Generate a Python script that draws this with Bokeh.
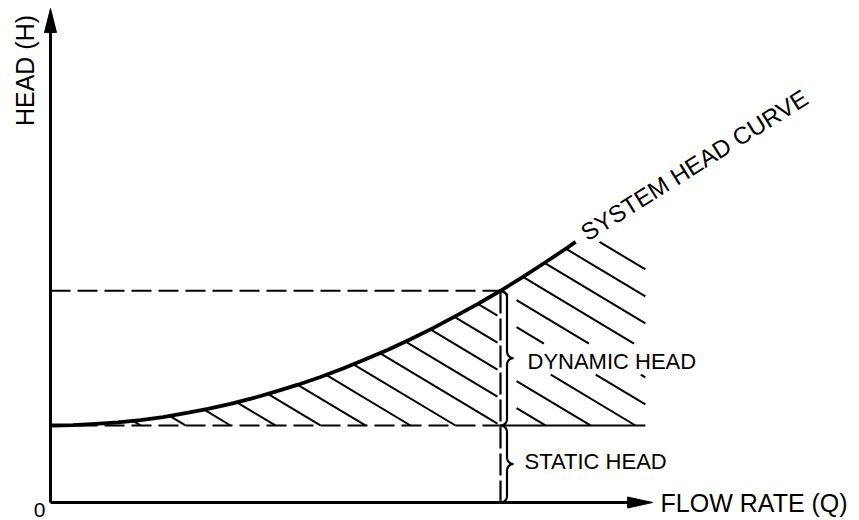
import numpy as np
from bokeh.plotting import figure
from bokeh.models import Range1d, Label
from bokeh.embed import file_html
from bokeh.resources import INLINE

# ---------------- data ----------------
flow_q = [0.0, 0.5, 1.0, 1.5, 2.0, 2.5, 3.0, 3.5, 4.0, 4.5, 5.0, 5.5, 6.0,
          6.5, 7.0, 7.5, 8.0, 8.5, 9.0, 9.5, 10.0, 10.5, 11.0, 11.5, 11.67]
head_h = [20.0, 20.1, 20.4, 20.8, 21.4, 22.2, 23.2, 24.3, 25.6, 27.1, 28.8,
          30.6, 32.6, 34.8, 37.2, 39.7, 42.4, 45.3, 48.4, 51.6, 55.0, 58.6,
          62.4, 66.3, 67.7]
static_head = 20.0
design_flow = 10.0
design_head = 55.0
q_axis_end = 13.38
h_axis_end = 128.3
hatch_q_end = 13.22

x_axis_title = "FLOW RATE (Q)"
y_axis_title = "HEAD (H)"
origin_label = "0"
curve_label = "SYSTEM HEAD CURVE"
dynamic_label = "DYNAMIC HEAD"
static_label = "STATIC HEAD"

# ---------------- layout / scales ----------------
W, H = 859, 520
PX_Q = 45.0        # pixels per unit of Q
PX_H = 3.85        # pixels per unit of H
OX, OY = 50.0, 18.0  # origin offset from frame left / bottom, px
FONT = "Liberation Sans"


def dq(px):
    return px / PX_Q


def dh(px):
    return px / PX_H


p = figure(width=W, height=H,
           x_range=Range1d(-OX / PX_Q, (W - OX) / PX_Q),
           y_range=Range1d(-OY / PX_H, (H - OY) / PX_H),
           x_axis_type=None, y_axis_type=None,
           toolbar_location=None, output_backend="svg",
           min_border=0, outline_line_color=None,
           background_fill_color="white", border_fill_color="white")

# ---------------- hatch lines ----------------
HATCH_SLOPE = 0.6  # screen px down per px right
m = HATCH_SLOPE * PX_Q / PX_H
qq = np.linspace(0.0, hatch_q_end, 6000)
top = np.interp(qq, flow_q, head_h)
dyn_mid = (static_head + design_head) / 2.0
dyn_base = dyn_mid - dh(11.5)
sta_base = static_head / 2.0 - dh(5.5)
gap_lo = dyn_base - dh(5)
gap_hi = dyn_base + dh(26)
brace_lo_q = design_flow - dq(3)
brace_hi_q = design_flow + dq(16)

sx0, sy0, sx1, sy1 = [], [], [], []
for q0 in np.arange(2.0, 20.0, 1.0):
    hl = static_head - m * (qq - q0)
    ok = (hl >= static_head) & (hl <= top)
    ok &= ~((qq > brace_lo_q) & (qq < brace_hi_q) & (hl < design_head - dh(4)))
    ok &= ~((qq >= brace_hi_q) & (hl > gap_lo) & (hl < gap_hi))
    idx = np.flatnonzero(ok)
    if idx.size == 0:
        continue
    br = np.flatnonzero(np.diff(idx) > 1)
    starts = np.r_[idx[0], idx[br + 1]]
    ends = np.r_[idx[br], idx[-1]]
    for s, e in zip(starts, ends):
        if e - s > 2:
            sx0.append(qq[s]); sy0.append(hl[s])
            sx1.append(qq[e]); sy1.append(hl[e])

p.segment(x0=sx0, y0=sy0, x1=sx1, y1=sy1, line_color="black", line_width=2)

# ---------------- dashed reference lines ----------------
p.line([0, design_flow], [design_head, design_head], line_color="black",
       line_width=2.2, line_dash="20 7")
p.line([0, design_flow], [static_head, static_head], line_color="black",
       line_width=2.2, line_dash="20 7")
p.line([design_flow, hatch_q_end], [static_head, static_head],
       line_color="black", line_width=2.2)
p.line([design_flow, design_flow], [0, design_head], line_color="black",
       line_width=2.2, line_dash="22 5")

# ---------------- system head curve ----------------
p.line(flow_q, head_h, line_color="black", line_width=3.8, line_join="round")

# ---------------- axes with arrow heads ----------------
y_head_len, y_head_half = 24, 6
x_head_len, x_head_half = 25, 5.5
p.line([0, 0], [0, h_axis_end - dh(y_head_len) + dh(1)], line_color="black",
       line_width=3)
p.line([0, q_axis_end - dq(x_head_len) + dq(1)], [0, 0], line_color="black",
       line_width=3)
p.patch([0, -dq(y_head_half), dq(y_head_half)],
        [h_axis_end, h_axis_end - dh(y_head_len), h_axis_end - dh(y_head_len)],
        fill_color="black", line_color="black", line_width=1)
p.patch([q_axis_end, q_axis_end - dq(x_head_len), q_axis_end - dq(x_head_len)],
        [0, dh(x_head_half), -dh(x_head_half)],
        fill_color="black", line_color="black", line_width=1)


# ---------------- braces ----------------
def brace(q_at, h_top, h_bot, r=6.5, n=12):
    # work in screen px offsets (x right, y down) relative to (q_at, h_top)
    y_bot = (h_top - h_bot) * PX_H
    y_mid = y_bot / 2.0
    t = np.linspace(0, np.pi / 2, n)
    xs, ys = [], []
    xs += list(r * np.sin(t)); ys += list(r - r * np.cos(t))
    xs += list(2 * r - r * np.cos(t)); ys += list(y_mid - r + r * np.sin(t))
    xs += list(2 * r - r * np.sin(t)); ys += list(y_mid + r - r * np.cos(t))
    xs += list(r * np.cos(t)); ys += list(y_bot - r + r * np.sin(t))
    return ([q_at + dq(x) for x in xs], [h_top - dh(y) for y in ys])


bx, by = brace(design_flow, design_head, static_head)
p.line(bx, by, line_color="black", line_width=2.2)
bx, by = brace(design_flow, static_head, 0.0)
p.line(bx, by, line_color="black", line_width=2.2)


# ---------------- texts ----------------
def add_label(x, y, text, size_px, angle=0.0, align="left"):
    # compensate the renderer's baseline placement (text drawn ~0.36 em low)
    off = 0.36 * size_px
    x = x - dq(off * np.sin(angle))
    y = y + dh(off * np.cos(angle))
    p.add_layout(Label(x=x, y=y, text=text, angle=angle,
                       text_font=FONT, text_font_size=f"{size_px}px",
                       text_color="black", text_align=align,
                       text_baseline="alphabetic"))


add_label(q_axis_end + dq(8), -dh(9), x_axis_title, 25)
add_label(-dq(17), h_axis_end - dh(62), y_axis_title, 25,
          angle=np.pi / 2, align="center")
add_label(-dq(11), -dh(15), origin_label, 21, align="center")
add_label(flow_q[-1] + dq(12), head_h[-1] + dh(0), curve_label, 24,
          angle=np.deg2rad(32))
add_label(design_flow + dq(27), dyn_base, dynamic_label, 22)
add_label(design_flow + dq(24), sta_base, static_label, 22)

open("out.html", "w").write(file_html(p, INLINE))
